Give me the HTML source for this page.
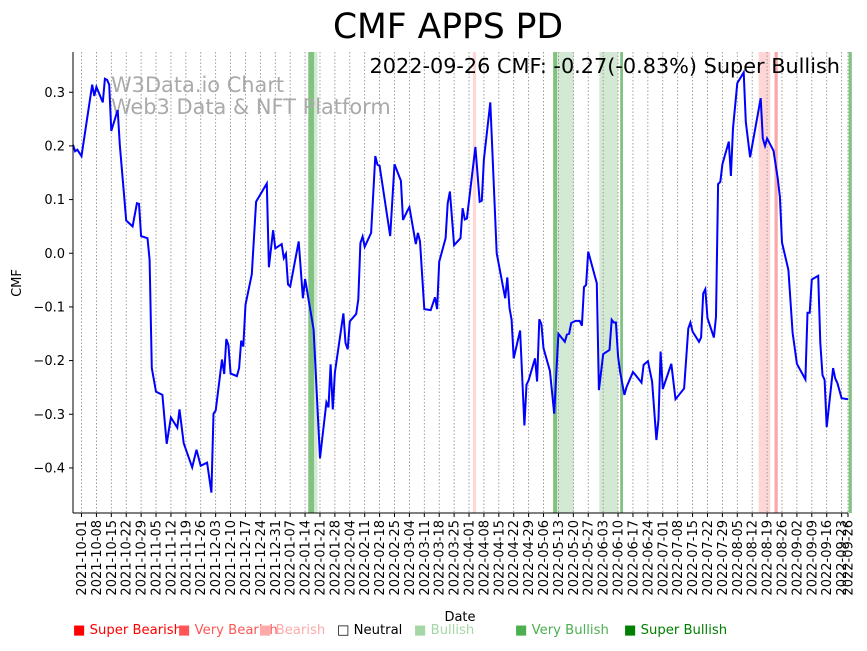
<!DOCTYPE html>
<html><head><meta charset="utf-8"><style>
body{margin:0;background:#fff;width:867px;height:646px;overflow:hidden}
svg{font-family:"DejaVu Sans","Liberation Sans",sans-serif}
</style></head><body>
<svg id="c" width="867" height="646" xmlns="http://www.w3.org/2000/svg">
<text x="448" y="38" font-size="34.5" text-anchor="middle">CMF APPS PD</text>
<g id="bands"></g>
<g id="grid"></g>
<text x="111" y="92" font-size="20.9" fill="#aaa">W3Data.io Chart</text>
<text x="111" y="114" font-size="20.9" fill="#aaa">Web3 Data &amp; NFT Platform</text>
<path id="line" fill="none" stroke="#0000ff" stroke-width="2"/>
<text x="840" y="73" font-size="20.8" text-anchor="end">2022-09-26 CMF: -0.27(-0.83%) Super Bullish</text>
<g id="yax"></g>
<g id="xax"></g>
<line x1="73" y1="52" x2="73" y2="513" stroke="#000"/>
<line x1="73" y1="513" x2="848" y2="513" stroke="#000"/>
<text transform="translate(21,283) rotate(-90)" font-size="13" text-anchor="middle">CMF</text>
<text x="460" y="621" font-size="13" text-anchor="middle">Date</text>
<g font-size="13.2">
<text x="73" y="634" fill="#ff0000">■ Super Bearish</text>
<text x="178" y="634" fill="#ff5555">■ Very Bearish</text>
<text x="259" y="634" fill="#ffaaaa">■ Bearish</text>
<text x="337" y="634" fill="#000">□ Neutral</text>
<text x="414" y="634" fill="#a5d6a5">■ Bullish</text>
<text x="515" y="634" fill="#4caf50">■ Very Bullish</text>
<text x="624" y="634" fill="#008000">■ Super Bullish</text>
</g>
</svg>
<script>
// days since 2021-09-27
const days=[0,1,2,4,9,10,11,14,15,16,17,18,21,22,25,28,30,31,32,35,36,37,39,42,44,46,49,50,52,56,58,60,63,65,66,67,70,71,72,73,74,77,78,79,80,81,84,86,91,92,94,95,98,99,100,101,102,106,108,109,113,116,119,120,121,122,123,127,128,129,130,133,134,135,136,137,140,142,143,144,149,151,154,155,157,158,161,162,163,165,168,170,171,172,175,176,177,179,182,183,184,185,189,191,192,193,196,199,203,204,205,206,207,210,212,213,214,217,218,219,220,221,224,226,228,231,232,233,234,236,238,239,240,241,242,246,247,249,252,253,254,255,256,257,259,260,263,267,268,270,272,274,275,276,277,281,283,287,289,290,291,294,295,296,297,298,301,302,303,304,305,308,309,310,312,315,316,318,323,324,325,326,329,331,332,333,336,338,340,344,345,346,347,350,351,352,353,354,357,358,359,361,364];
const cmf=[0.202,0.19,0.193,0.181,0.314,0.293,0.31,0.281,0.325,0.323,0.314,0.228,0.267,0.202,0.061,0.05,0.093,0.092,0.032,0.028,-0.012,-0.214,-0.258,-0.264,-0.355,-0.306,-0.325,-0.291,-0.354,-0.399,-0.366,-0.396,-0.39,-0.446,-0.299,-0.293,-0.198,-0.225,-0.16,-0.171,-0.224,-0.229,-0.214,-0.163,-0.174,-0.096,-0.039,0.096,0.13,-0.026,0.043,0.009,0.017,-0.009,-0.001,-0.058,-0.062,0.022,-0.084,-0.048,-0.142,-0.382,-0.278,-0.287,-0.207,-0.291,-0.222,-0.112,-0.167,-0.179,-0.127,-0.113,-0.086,0.019,0.031,0.012,0.038,0.181,0.165,0.163,0.032,0.166,0.135,0.062,0.079,0.086,0.017,0.038,0.022,-0.104,-0.106,-0.082,-0.104,-0.016,0.028,0.093,0.115,0.015,0.028,0.084,0.063,0.065,0.198,0.096,0.098,0.175,0.281,0.0,-0.084,-0.045,-0.102,-0.124,-0.196,-0.144,-0.321,-0.245,-0.237,-0.196,-0.239,-0.123,-0.132,-0.177,-0.219,-0.299,-0.15,-0.165,-0.151,-0.15,-0.13,-0.126,-0.126,-0.135,-0.063,-0.059,0.003,-0.056,-0.255,-0.188,-0.18,-0.124,-0.129,-0.129,-0.193,-0.222,-0.264,-0.249,-0.221,-0.241,-0.208,-0.201,-0.239,-0.348,-0.309,-0.183,-0.253,-0.206,-0.272,-0.252,-0.14,-0.129,-0.146,-0.165,-0.157,-0.075,-0.067,-0.121,-0.157,-0.118,0.129,0.133,0.166,0.208,0.144,0.233,0.317,0.337,0.245,0.179,0.289,0.214,0.2,0.214,0.191,0.14,0.105,0.02,-0.031,-0.148,-0.206,-0.235,-0.111,-0.111,-0.049,-0.042,-0.167,-0.227,-0.236,-0.324,-0.214,-0.233,-0.242,-0.27,-0.272];
const bandStart=[110.5,113.3,187.8,225.5,227.4,247.2,257,322,329.5,364.3];
const bandEnd=[113.3,114.8,189.3,227.4,235.2,256,258.3,327.5,331,365.8];
const bandKind=['very','bull','bear','very','bull','bull','very','bear','vbear','very'];
const yTicks=[0.3,0.2,0.1,0.0,-0.1,-0.2,-0.3,-0.4];
const yTickLabels=['0.3','0.2','0.1','0.0','−0.1','−0.2','−0.3','−0.4'];
const xTickDays=[];for(let k=0;k<52;k++)xTickDays.push(4+7*k);xTickDays.push(364);
const X0=73,X1=848,Y0=52,Y1=513,DMIN=0,DMAX=364,VMAX=0.375,VMIN=-0.484;
const xs=d=>X0+(d-DMIN)/(DMAX-DMIN)*(X1-X0);
const ys=v=>Y0+(VMAX-v)/(VMAX-VMIN)*(Y1-Y0);
const NS='http://www.w3.org/2000/svg';
function mk(t,a,p){const e=document.createElementNS(NS,t);for(const k in a)e.setAttribute(k,a[k]);p.appendChild(e);return e;}
const colors={very:'#81c281',bull:'#d4e9d4',bear:'#ffd6d6',vbear:'#f8a8a8'};
const bg=document.getElementById('bands');
bandStart.forEach((s,i)=>{const r=mk('rect',{x:xs(s),y:Y0,width:xs(bandEnd[i])-xs(s),height:Y1-Y0,fill:colors[bandKind[i]]},bg);

});
const g=document.getElementById('grid'),xa=document.getElementById('xax');
const base=new Date(Date.UTC(2021,8,27));
xTickDays.forEach(d=>{const x=xs(d);
const l=mk('line',{x1:x,y1:Y0,x2:x,y2:Y1,stroke:'#888','stroke-width':0.8,'stroke-dasharray':'1.5,2'},g);


const tk=mk('line',{x1:x,y1:Y1,x2:x,y2:Y1+4,stroke:'#000'},xa);


const dt=new Date(base.getTime()+d*86400000).toISOString().slice(0,10);
const t=mk('text',{transform:`translate(${x+4.5},${Y1+7}) rotate(-90)`,'font-size':13,'text-anchor':'end'},xa);t.textContent=dt;

});
const ya=document.getElementById('yax');
yTicks.forEach((v,i)=>{const y=ys(v);
const tk=mk('line',{x1:X0-4,y1:y,x2:X0,y2:y,stroke:'#000'},ya);


const t=mk('text',{x:X0-8,y:y+4.5,'font-size':13,'text-anchor':'end'},ya);t.textContent=yTickLabels[i];

});
document.getElementById('line').setAttribute('d',days.map((d,i)=>(i?'L':'M')+xs(d).toFixed(1)+','+ys(cmf[i]).toFixed(1)).join(''));
</script>
</body></html>
